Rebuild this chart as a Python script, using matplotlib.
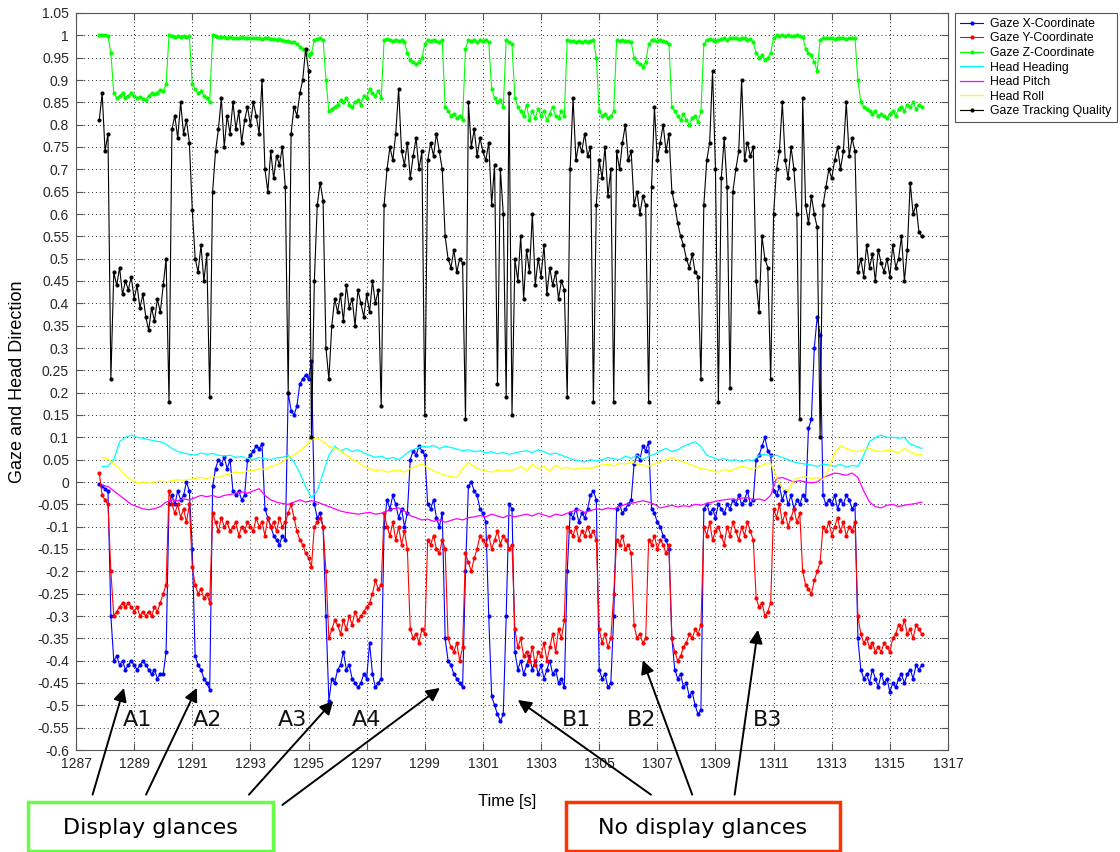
import numpy as np
import matplotlib
matplotlib.use("Agg")
import matplotlib.pyplot as plt
from matplotlib.patches import Rectangle

# gaze samples: every 0.1 s from 1287.8 s
gaze_t0, gaze_dt = 1287.8, 0.1
gaze_x = [
    -0.005, -0.01,
    -0.015, -0.02, -0.30, -0.40, -0.39, -0.41, -0.40, -0.42, -0.41, -0.40,  # 1288
    -0.41, -0.42, -0.41, -0.40, -0.41, -0.42, -0.43, -0.42, -0.44, -0.43,  # 1289
    -0.43, -0.38, -0.05, -0.03, -0.05, -0.02, -0.04, -0.03, 0.00, -0.02,  # 1290
    -0.15, -0.39, -0.41, -0.42, -0.44, -0.45, -0.465, -0.01, 0.03, 0.05,  # 1291
    0.04, 0.055, 0.03, 0.05, -0.02, -0.03, -0.02, -0.04, -0.03, 0.05,  # 1292
    0.06, 0.07, 0.08, 0.075, 0.085, -0.06, -0.08, -0.10, -0.12, -0.13,  # 1293
    -0.14, -0.12, -0.13, 0.20, 0.16, 0.15, 0.17, 0.22, 0.23, 0.24,  # 1294
    0.23, 0.27, -0.05, -0.08, -0.07, -0.10, -0.30, -0.49, -0.44, -0.45,  # 1295
    -0.42, -0.41, -0.38, -0.42, -0.41, -0.44, -0.45, -0.46, -0.45, -0.43,  # 1296
    -0.44, -0.36, -0.43, -0.46, -0.45, -0.44, -0.10, -0.04, -0.06, -0.03,  # 1297
    -0.05, -0.08, -0.06, -0.10, -0.07, 0.05, 0.07, 0.06, 0.08, 0.07,  # 1298
    0.06, -0.05, -0.06, -0.04, -0.08, -0.10, -0.07, -0.35, -0.40, -0.41,  # 1299
    -0.43, -0.44, -0.45, -0.46, -0.20, -0.01, 0.00, -0.02, -0.03, -0.06,  # 1300
    -0.07, -0.09, -0.30, -0.48, -0.50, -0.52, -0.535, -0.52, -0.30, -0.05,  # 1301
    -0.06, -0.38, -0.42, -0.40, -0.43, -0.41, -0.39, -0.42, -0.40, -0.43,  # 1302
    -0.41, -0.44, -0.42, -0.40, -0.43, -0.42, -0.45, -0.44, -0.46, -0.20,  # 1303
    -0.07, -0.08, -0.06, -0.09, -0.07, -0.08, -0.06, -0.03, -0.02, -0.04,  # 1304
    -0.42, -0.44, -0.43, -0.46, -0.45, -0.30, -0.06, -0.05, -0.07, -0.06,  # 1305
    -0.05, -0.04, 0.04, 0.06, 0.05, 0.08, 0.07, 0.09, -0.06, -0.07,  # 1306
    -0.09, -0.10, -0.12, -0.13, -0.15, -0.35, -0.42, -0.44, -0.43, -0.46,  # 1307
    -0.45, -0.48, -0.47, -0.50, -0.52, -0.51, -0.06, -0.05, -0.07, -0.06,  # 1308
    -0.08, -0.05, -0.06, -0.07, -0.05, -0.06, -0.04, -0.05, -0.03, -0.05,  # 1309
    -0.04, -0.02, -0.05, -0.04, 0.05, 0.06, 0.08, 0.10, 0.07, 0.06,  # 1310
    -0.02, -0.03, -0.01, -0.04, -0.02, -0.05, -0.03, -0.06, -0.04, -0.05,  # 1311
    -0.03, -0.04, 0.12, 0.14, 0.30, 0.37, 0.33, -0.03, -0.05, -0.04,  # 1312
    -0.05, -0.03, -0.06, -0.04, -0.05, -0.03, -0.04, -0.06, -0.05, -0.35,  # 1313
    -0.42, -0.44, -0.43, -0.45, -0.42, -0.44, -0.46, -0.43, -0.45, -0.44,  # 1314
    -0.47, -0.45, -0.46, -0.44, -0.43, -0.45, -0.43, -0.42, -0.44, -0.41,  # 1315
    -0.42, -0.41,
]
gaze_y = [
    0.02, -0.03,
    -0.04, -0.05, -0.20, -0.30, -0.29, -0.28, -0.27, -0.28, -0.27, -0.28,  # 1288
    -0.29, -0.28, -0.30, -0.29, -0.30, -0.29, -0.30, -0.28, -0.29, -0.27,  # 1289
    -0.25, -0.23, -0.02, -0.05, -0.07, -0.05, -0.08, -0.06, -0.09, -0.05,  # 1290
    -0.19, -0.23, -0.25, -0.24, -0.26, -0.25, -0.27, -0.07, -0.09, -0.11,  # 1291
    -0.08, -0.10, -0.09, -0.11, -0.10, -0.09, -0.12, -0.10, -0.11, -0.09,  # 1292
    -0.10, -0.11, -0.08, -0.10, -0.09, -0.12, -0.08, -0.10, -0.09, -0.11,  # 1293
    -0.08, -0.10, -0.09, -0.07, -0.05, -0.08, -0.11, -0.13, -0.14, -0.16,  # 1294
    -0.17, -0.19, -0.10, -0.09, -0.08, -0.10, -0.20, -0.35, -0.33, -0.31,  # 1295
    -0.32, -0.34, -0.31, -0.33, -0.30, -0.32, -0.29, -0.31, -0.30, -0.29,  # 1296
    -0.28, -0.27, -0.25, -0.22, -0.24, -0.23, -0.07, -0.10, -0.12, -0.09,  # 1297
    -0.13, -0.10, -0.14, -0.11, -0.15, -0.33, -0.35, -0.34, -0.36, -0.33,  # 1298
    -0.34, -0.13, -0.14, -0.12, -0.15, -0.16, -0.13, -0.15, -0.35, -0.37,  # 1299
    -0.38, -0.36, -0.40, -0.37, -0.16, -0.18, -0.20, -0.17, -0.15, -0.12,  # 1300
    -0.13, -0.14, -0.12, -0.15, -0.13, -0.11, -0.14, -0.12, -0.13, -0.15,  # 1301
    -0.14, -0.33, -0.37, -0.35, -0.39, -0.38, -0.40, -0.37, -0.41, -0.38,  # 1302
    -0.39, -0.36, -0.40, -0.37, -0.34, -0.38, -0.33, -0.35, -0.31, -0.10,  # 1303
    -0.11, -0.12, -0.10, -0.13, -0.11, -0.12, -0.10, -0.12, -0.11, -0.13,  # 1304
    -0.33, -0.36, -0.34, -0.37, -0.35, -0.25, -0.13, -0.14, -0.12, -0.15,  # 1305
    -0.14, -0.16, -0.32, -0.35, -0.34, -0.36, -0.35, -0.13, -0.14, -0.12,  # 1306
    -0.15, -0.13, -0.14, -0.16, -0.14, -0.35, -0.38, -0.40, -0.39, -0.37,  # 1307
    -0.36, -0.34, -0.35, -0.33, -0.34, -0.32, -0.10, -0.12, -0.09, -0.13,  # 1308
    -0.11, -0.10, -0.12, -0.14, -0.10, -0.12, -0.09, -0.11, -0.13, -0.10,  # 1309
    -0.12, -0.09, -0.11, -0.13, -0.26, -0.28, -0.27, -0.30, -0.29, -0.27,  # 1310
    -0.06, -0.08, -0.05, -0.09, -0.07, -0.10, -0.08, -0.06, -0.09, -0.07,  # 1311
    -0.20, -0.23, -0.24, -0.25, -0.22, -0.20, -0.18, -0.10, -0.11, -0.09,  # 1312
    -0.12, -0.10, -0.08, -0.11, -0.09, -0.12, -0.10, -0.11, -0.09, -0.30,  # 1313
    -0.34, -0.36, -0.35, -0.37, -0.36, -0.38, -0.37, -0.38, -0.36, -0.37,  # 1314
    -0.38, -0.35, -0.34, -0.32, -0.33, -0.31, -0.34, -0.33, -0.35, -0.32,  # 1315
    -0.33, -0.34,
]
gaze_z = [
    1.0, 1.0,
    1.0, 0.998, 0.96, 0.87, 0.86, 0.865, 0.87, 0.86, 0.865, 0.87,  # 1288
    0.865, 0.86, 0.862, 0.858, 0.856, 0.865, 0.87, 0.868, 0.872, 0.878,  # 1289
    0.875, 0.89, 1.0, 0.998, 0.997, 0.998, 0.996, 0.998, 0.997, 0.998,  # 1290
    0.89, 0.88, 0.87, 0.875, 0.865, 0.86, 0.85, 1.0, 0.998, 0.997,  # 1291
    0.996, 0.997, 0.995, 0.996, 0.994, 0.995, 0.994, 0.996, 0.993, 0.995,  # 1292
    0.994, 0.993, 0.995, 0.993, 0.992, 0.994, 0.993, 0.991, 0.992, 0.99,  # 1293
    0.992, 0.99, 0.988, 0.987, 0.985, 0.986, 0.98, 0.975, 0.97, 0.965,  # 1294
    0.955, 0.96, 0.99, 0.992, 0.993, 0.99, 0.9, 0.83, 0.835, 0.84,  # 1295
    0.845, 0.855, 0.85, 0.86, 0.845, 0.84, 0.85, 0.855, 0.845, 0.865,  # 1296
    0.86, 0.88, 0.87, 0.865, 0.875, 0.86, 0.99, 0.992, 0.99, 0.988,  # 1297
    0.99, 0.987, 0.989, 0.986, 0.96, 0.945, 0.94, 0.935, 0.94, 0.95,  # 1298
    0.98, 0.99, 0.988, 0.99, 0.987, 0.985, 0.99, 0.84, 0.83, 0.82,  # 1299
    0.825, 0.815, 0.82, 0.81, 0.97, 0.99, 0.988, 0.99, 0.985, 0.99,  # 1300
    0.988, 0.99, 0.985, 0.88, 0.86, 0.85, 0.855, 0.84, 0.99, 0.985,  # 1301
    0.98, 0.86, 0.84, 0.83, 0.82, 0.845, 0.81, 0.83, 0.815, 0.835,  # 1302
    0.82, 0.83, 0.81, 0.825, 0.84, 0.82, 0.815, 0.83, 0.82, 0.99,  # 1303
    0.988, 0.987, 0.986, 0.988, 0.985, 0.987, 0.986, 0.988, 0.99, 0.95,  # 1304
    0.83, 0.82, 0.825, 0.815, 0.82, 0.83, 0.99, 0.988, 0.99, 0.987,  # 1305
    0.988, 0.985, 0.95, 0.94, 0.935, 0.93, 0.94, 0.98, 0.99, 0.99,  # 1306
    0.988, 0.99, 0.987, 0.985, 0.98, 0.84, 0.83, 0.82, 0.81, 0.825,  # 1307
    0.81, 0.80, 0.815, 0.82, 0.805, 0.83, 0.98, 0.99, 0.992, 0.99,  # 1308
    0.988, 0.99, 0.992, 0.993, 0.99, 0.994, 0.995, 0.993, 0.992, 0.994,  # 1309
    0.993, 0.99, 0.992, 0.985, 0.96, 0.95, 0.955, 0.945, 0.95, 0.96,  # 1310
    0.995, 1.0, 0.998, 1.0, 0.999, 1.0, 0.998, 0.999, 1.0, 0.998,  # 1311
    0.997, 0.97, 0.96, 0.955, 0.94, 0.92, 0.99, 0.993, 0.995, 0.993,  # 1312
    0.994, 0.992, 0.995, 0.993, 0.994, 0.992, 0.993, 0.995, 0.994, 0.90,  # 1313
    0.85, 0.84, 0.835, 0.83, 0.825, 0.83, 0.82, 0.825, 0.82, 0.815,  # 1314
    0.825, 0.83, 0.82, 0.835, 0.84, 0.83, 0.845, 0.84, 0.85, 0.835,  # 1315
    0.845, 0.84,
]
quality = [
    0.81, 0.87,
    0.74, 0.78, 0.23, 0.47, 0.44, 0.48, 0.42, 0.45, 0.43, 0.46,  # 1288
    0.41, 0.44, 0.39, 0.42, 0.37, 0.34, 0.39, 0.36, 0.41, 0.38,  # 1289
    0.44, 0.50, 0.18, 0.79, 0.82, 0.77, 0.85, 0.78, 0.81, 0.76,  # 1290
    0.61, 0.50, 0.47, 0.53, 0.45, 0.51, 0.19, 0.65, 0.74, 0.79,  # 1291
    0.86, 0.75, 0.82, 0.78, 0.85, 0.79, 0.83, 0.76, 0.81, 0.84,  # 1292
    0.80, 0.85, 0.82, 0.78, 0.90, 0.70, 0.65, 0.74, 0.68, 0.73,  # 1293
    0.71, 0.75, 0.66, 0.20, 0.78, 0.84, 0.82, 0.87, 0.90, 0.97,  # 1294
    0.92, 0.10, 0.45, 0.62, 0.67, 0.63, 0.30, 0.23, 0.35, 0.41,  # 1295
    0.38, 0.42, 0.36, 0.44, 0.39, 0.41, 0.35, 0.43, 0.40, 0.37,  # 1296
    0.42, 0.38, 0.45, 0.40, 0.43, 0.17, 0.62, 0.70, 0.75, 0.72,  # 1297
    0.78, 0.88, 0.74, 0.71, 0.76, 0.68, 0.73, 0.77, 0.70, 0.74,  # 1298
    0.15, 0.72, 0.76, 0.73, 0.78, 0.74, 0.70, 0.55, 0.50, 0.48,  # 1299
    0.52, 0.47, 0.50, 0.49, 0.14, 0.85, 0.75, 0.79, 0.73, 0.77,  # 1300
    0.74, 0.72, 0.76, 0.62, 0.71, 0.22, 0.70, 0.60, 0.19, 0.87,  # 1301
    0.15, 0.50, 0.45, 0.55, 0.41, 0.52, 0.47, 0.60, 0.44, 0.50,  # 1302
    0.46, 0.53, 0.42, 0.48, 0.44, 0.47, 0.41, 0.45, 0.43, 0.19,  # 1303
    0.70, 0.86, 0.72, 0.76, 0.74, 0.78, 0.73, 0.75, 0.18, 0.62,  # 1304
    0.72, 0.68, 0.75, 0.64, 0.70, 0.18, 0.74, 0.70, 0.76, 0.80,  # 1305
    0.72, 0.74, 0.62, 0.65, 0.60, 0.64, 0.62, 0.18, 0.66, 0.84,  # 1306
    0.72, 0.76, 0.80, 0.74, 0.78, 0.65, 0.62, 0.58, 0.55, 0.53,  # 1307
    0.50, 0.48, 0.51, 0.47, 0.46, 0.23, 0.62, 0.72, 0.76, 0.92,  # 1308
    0.70, 0.18, 0.68, 0.77, 0.66, 0.21, 0.65, 0.70, 0.74, 0.90,  # 1309
    0.72, 0.76, 0.73, 0.75, 0.45, 0.38, 0.55, 0.50, 0.48, 0.23,  # 1310
    0.60, 0.70, 0.74, 0.85, 0.72, 0.68, 0.75, 0.70, 0.60, 0.14,  # 1311
    0.86, 0.62, 0.58, 0.64, 0.60, 0.57, 0.10, 0.62, 0.66, 0.70,  # 1312
    0.68, 0.72, 0.75, 0.70, 0.74, 0.85, 0.73, 0.77, 0.74, 0.47,  # 1313
    0.50, 0.46, 0.53, 0.48, 0.51, 0.45, 0.52, 0.49, 0.47, 0.50,  # 1314
    0.46, 0.53, 0.48, 0.50, 0.55, 0.45, 0.52, 0.67, 0.60, 0.62,  # 1315
    0.56, 0.55,
]

# head samples: every 0.2 s from 1287.9 s
head_t0, head_dt = 1287.9, 0.2
head_heading = [
    0.035,
    0.035, 0.05, 0.09, 0.10, 0.105,  # 1288
    0.10, 0.098, 0.095, 0.092, 0.09,  # 1289
    0.085, 0.075, 0.068, 0.065, 0.062,  # 1290
    0.06, 0.065, 0.062, 0.064, 0.06,  # 1291
    0.058, 0.06, 0.055, 0.057, 0.053,  # 1292
    0.05, 0.055, 0.052, 0.05, 0.054,  # 1293
    0.055, 0.06, 0.045, 0.02, -0.01,  # 1294
    -0.035, -0.02, 0.02, 0.06, 0.08,  # 1295
    0.07, 0.075, 0.068, 0.072, 0.065,  # 1296
    0.06, 0.055, 0.058, 0.052, 0.055,  # 1297
    0.05, 0.06, 0.07, 0.075, 0.08,  # 1298
    0.078, 0.082, 0.075, 0.08, 0.077,  # 1299
    0.074, 0.07, 0.072, 0.068, 0.07,  # 1300
    0.065, 0.068, 0.063, 0.066, 0.062,  # 1301
    0.065, 0.068, 0.07, 0.066, 0.072,  # 1302
    0.068, 0.062, 0.065, 0.06, 0.055,  # 1303
    0.05, 0.048, 0.045, 0.05, 0.047,  # 1304
    0.05, 0.055, 0.052, 0.05, 0.058,  # 1305
    0.053, 0.06, 0.05, 0.058, 0.062,  # 1306
    0.07, 0.075, 0.068, 0.072, 0.08,  # 1307
    0.085, 0.09, 0.08, 0.06, 0.055,  # 1308
    0.05, 0.052, 0.048, 0.05, 0.045,  # 1309
    0.05, 0.048, 0.06, 0.062, 0.058,  # 1310
    0.06, 0.055, 0.05, 0.045, 0.042,  # 1311
    0.04, 0.038, 0.035, 0.04, 0.038,  # 1312
    0.035, 0.04, 0.033, 0.037, 0.035,  # 1313
    0.06, 0.09, 0.10, 0.105, 0.10,  # 1314
    0.10, 0.098, 0.10, 0.085, 0.08,  # 1315
    0.075,
]
head_pitch = [
    -0.007,
    -0.01, -0.02, -0.03, -0.04, -0.05,  # 1288
    -0.055, -0.06, -0.062, -0.06, -0.055,  # 1289
    -0.045, -0.04, -0.042, -0.038, -0.04,  # 1290
    -0.035, -0.03, -0.033, -0.03, -0.035,  # 1291
    -0.03, -0.028, -0.025, -0.022, -0.025,  # 1292
    -0.02, -0.015, -0.03, -0.04, -0.045,  # 1293
    -0.048, -0.05, -0.045, -0.04, -0.045,  # 1294
    -0.042, -0.045, -0.05, -0.055, -0.06,  # 1295
    -0.065, -0.068, -0.07, -0.072, -0.07,  # 1296
    -0.068, -0.072, -0.07, -0.065, -0.06,  # 1297
    -0.058, -0.065, -0.075, -0.08, -0.085,  # 1298
    -0.083, -0.088, -0.085, -0.09, -0.086,  # 1299
    -0.082, -0.085, -0.08, -0.078, -0.075,  # 1300
    -0.078, -0.072, -0.076, -0.08, -0.074,  # 1301
    -0.078, -0.075, -0.072, -0.076, -0.07,  # 1302
    -0.074, -0.078, -0.072, -0.075, -0.07,  # 1303
    -0.065, -0.062, -0.068, -0.064, -0.06,  # 1304
    -0.062, -0.058, -0.06, -0.055, -0.05,  # 1305
    -0.048, -0.045, -0.042, -0.045, -0.05,  # 1306
    -0.058, -0.055, -0.052, -0.056, -0.053,  # 1307
    -0.055, -0.05, -0.052, -0.048, -0.045,  # 1308
    -0.042, -0.04, -0.038, -0.04, -0.036,  # 1309
    -0.035, -0.04, -0.038, -0.042, -0.03,  # 1310
    0.008, 0.01, 0.005, 0.0, 0.003,  # 1311
    0.0, -0.002, 0.0, 0.01, 0.015,  # 1312
    0.02, 0.018, 0.015, 0.02, 0.01,  # 1313
    -0.02, -0.045, -0.055, -0.058, -0.052,  # 1314
    -0.05, -0.055, -0.052, -0.05, -0.048,  # 1315
    -0.045,
]
head_roll = [
    0.055,
    0.052, 0.04, 0.03, 0.015, 0.005,  # 1288
    -0.002, 0.0, -0.003, 0.0, 0.002,  # 1289
    0.0, 0.003, 0.005, 0.004, 0.006,  # 1290
    0.008, 0.01, 0.008, 0.012, 0.01,  # 1291
    0.015, 0.018, 0.022, 0.02, 0.025,  # 1292
    0.025, 0.03, 0.028, 0.035, 0.038,  # 1293
    0.045, 0.055, 0.06, 0.07, 0.08,  # 1294
    0.095, 0.10, 0.09, 0.08, 0.075,  # 1295
    0.07, 0.06, 0.05, 0.045, 0.035,  # 1296
    0.03, 0.025, 0.028, 0.022, 0.025,  # 1297
    0.027, 0.022, 0.03, 0.035, 0.04,  # 1298
    0.032, 0.025, 0.02, 0.015, 0.012,  # 1299
    0.01, 0.03, 0.043, 0.035, 0.028,  # 1300
    0.025, 0.022, 0.027, 0.024, 0.026,  # 1301
    0.028, 0.035, 0.025, 0.04, 0.03,  # 1302
    0.035, 0.025, 0.038, 0.03, 0.033,  # 1303
    0.028, 0.03, 0.032, 0.03, 0.035,  # 1304
    0.038, 0.04, 0.036, 0.042, 0.04,  # 1305
    0.045, 0.04, 0.038, 0.035, 0.04,  # 1306
    0.045, 0.05, 0.055, 0.048, 0.045,  # 1307
    0.04, 0.035, 0.03, 0.028, 0.025,  # 1308
    0.022, 0.028, 0.025, 0.03, 0.035,  # 1309
    0.032, 0.028, 0.035, 0.04, 0.042,  # 1310
    0.01, -0.015, -0.02, 0.005, 0.01,  # 1311
    0.012, 0.008, 0.01, 0.005, 0.03,  # 1312
    0.065, 0.08, 0.075, 0.07, 0.068,  # 1313
    0.072, 0.075, 0.07, 0.068, 0.072,  # 1314
    0.07, 0.065, 0.075, 0.068, 0.06,  # 1315
    0.062,
]

series_names = ["Gaze X-Coordinate", "Gaze Y-Coordinate", "Gaze Z-Coordinate",
                "Head Heading", "Head Pitch", "Head Roll", "Gaze Tracking Quality"]
series_colors = ["#0000ff", "#ff0000", "#00ff00", "#00ffff", "#ff00ff", "#ffff00", "#000000"]

x_ticks = list(range(1287, 1318, 2))
y_ticks = [round(-0.6 + 0.05 * i, 2) for i in range(34)]

t_gaze = gaze_t0 + gaze_dt * np.arange(len(gaze_x))
t_head = head_t0 + head_dt * np.arange(len(head_heading))

fig = plt.figure(figsize=(11.2, 8.52), dpi=100)
ax = fig.add_axes([76 / 1120, 102 / 852, 872 / 1120, 737 / 852])

gaze_sets = [gaze_x, gaze_y, gaze_z]
head_sets = [head_heading, head_pitch, head_roll]
for vals, name, col in zip(gaze_sets, series_names[:3], series_colors[:3]):
    ax.plot(t_gaze, vals, color=col, lw=0.8, marker='.', ms=4, label=name)
for vals, name, col in zip(head_sets, series_names[3:6], series_colors[3:6]):
    ax.plot(t_head, vals, color=col, lw=0.9, label=name)
ax.plot(t_gaze, quality, color=series_colors[6], lw=0.8, marker='.', ms=4,
        label=series_names[6])

ax.set_xlim(1287, 1317)
ax.set_ylim(-0.6, 1.05)
ax.set_xticks(x_ticks)
ax.set_yticks(y_ticks)
ax.set_yticklabels(["0" if v == 0 else f"{v:g}" for v in y_ticks])
ax.tick_params(direction='in', length=5, top=True, right=True, color='#555555',
               labelcolor='#262626', labelsize=10, pad=5)
for lab in ax.get_xticklabels() + ax.get_yticklabels():
    lab.set_family('Liberation Sans')
for sp in ax.spines.values():
    sp.set_color('#555555')
ax.grid(True, linestyle=(0, (1, 3)), color='#222222', lw=0.7)

ax.set_ylabel("Gaze and Head Direction", fontsize=13, family='Liberation Sans')
ax.yaxis.set_label_coords((26 - 76) / 872, 0.5)
ax.set_xlabel("Time [s]", fontsize=12, family=['Liberation Sans Narrow', 'Liberation Sans'])
ax.xaxis.set_label_coords((507 - 76) / 872, (750 - 794) / 737)

leg = ax.legend(loc='upper left', bbox_to_anchor=(955 / 1120, 1 - 13 / 852),
                bbox_transform=fig.transFigure, borderaxespad=0, fancybox=False,
                edgecolor='#555555', framealpha=1, labelspacing=0.21,
                handlelength=1.9, handletextpad=0.6, borderpad=0.4,
                prop={'family': 'Liberation Sans', 'size': 8.8})
leg.get_frame().set_linewidth(0.8)

# glance labels and arrows
arrow_kw = dict(arrowstyle='-|>', color='k', lw=1.4, mutation_scale=20,
                shrinkA=0, shrinkB=0)
for txt, tx in [("A1", 1289.1), ("A2", 1291.54), ("A3", 1294.46), ("A4", 1297.01),
                ("B1", 1304.23), ("B2", 1306.47), ("B3", 1310.8)]:
    ax.text(tx, -0.533, txt, fontsize=16, ha='center', va='center',
            family='DejaVu Sans', color='#111111')

for head, tail in [((1288.65, -0.461), (1287.57, -0.70)),
                   ((1291.16, -0.461), (1289.41, -0.70)),
                   ((1295.85, -0.49), (1292.95, -0.70)),
                   ((1299.52, -0.461), (1294.10, -0.723)),
                   ((1302.20, -0.488), (1306.78, -0.70)),
                   ((1306.50, -0.399), (1308.20, -0.70)),
                   ((1310.46, -0.331), (1309.66, -0.70))]:
    ax.annotate("", xy=head, xytext=tail, arrowprops=arrow_kw,
                annotation_clip=False)

fig.add_artist(Rectangle((28 / 1120, 1 / 852), 245 / 1120, 49 / 852,
                         transform=fig.transFigure, fc='white', ec='#66ff44', lw=2.5))
fig.text(150 / 1120, 1 - 828 / 852, "Display glances", fontsize=16,
         family='DejaVu Sans', ha='center', va='center')
fig.add_artist(Rectangle((566 / 1120, 1 / 852), 274 / 1120, 49 / 852,
                         transform=fig.transFigure, fc='white', ec='#ff3300', lw=2.5))
fig.text(703 / 1120, 1 - 828 / 852, "No display glances", fontsize=16,
         family='DejaVu Sans', ha='center', va='center')

fig.savefig("out.png", dpi=100)
